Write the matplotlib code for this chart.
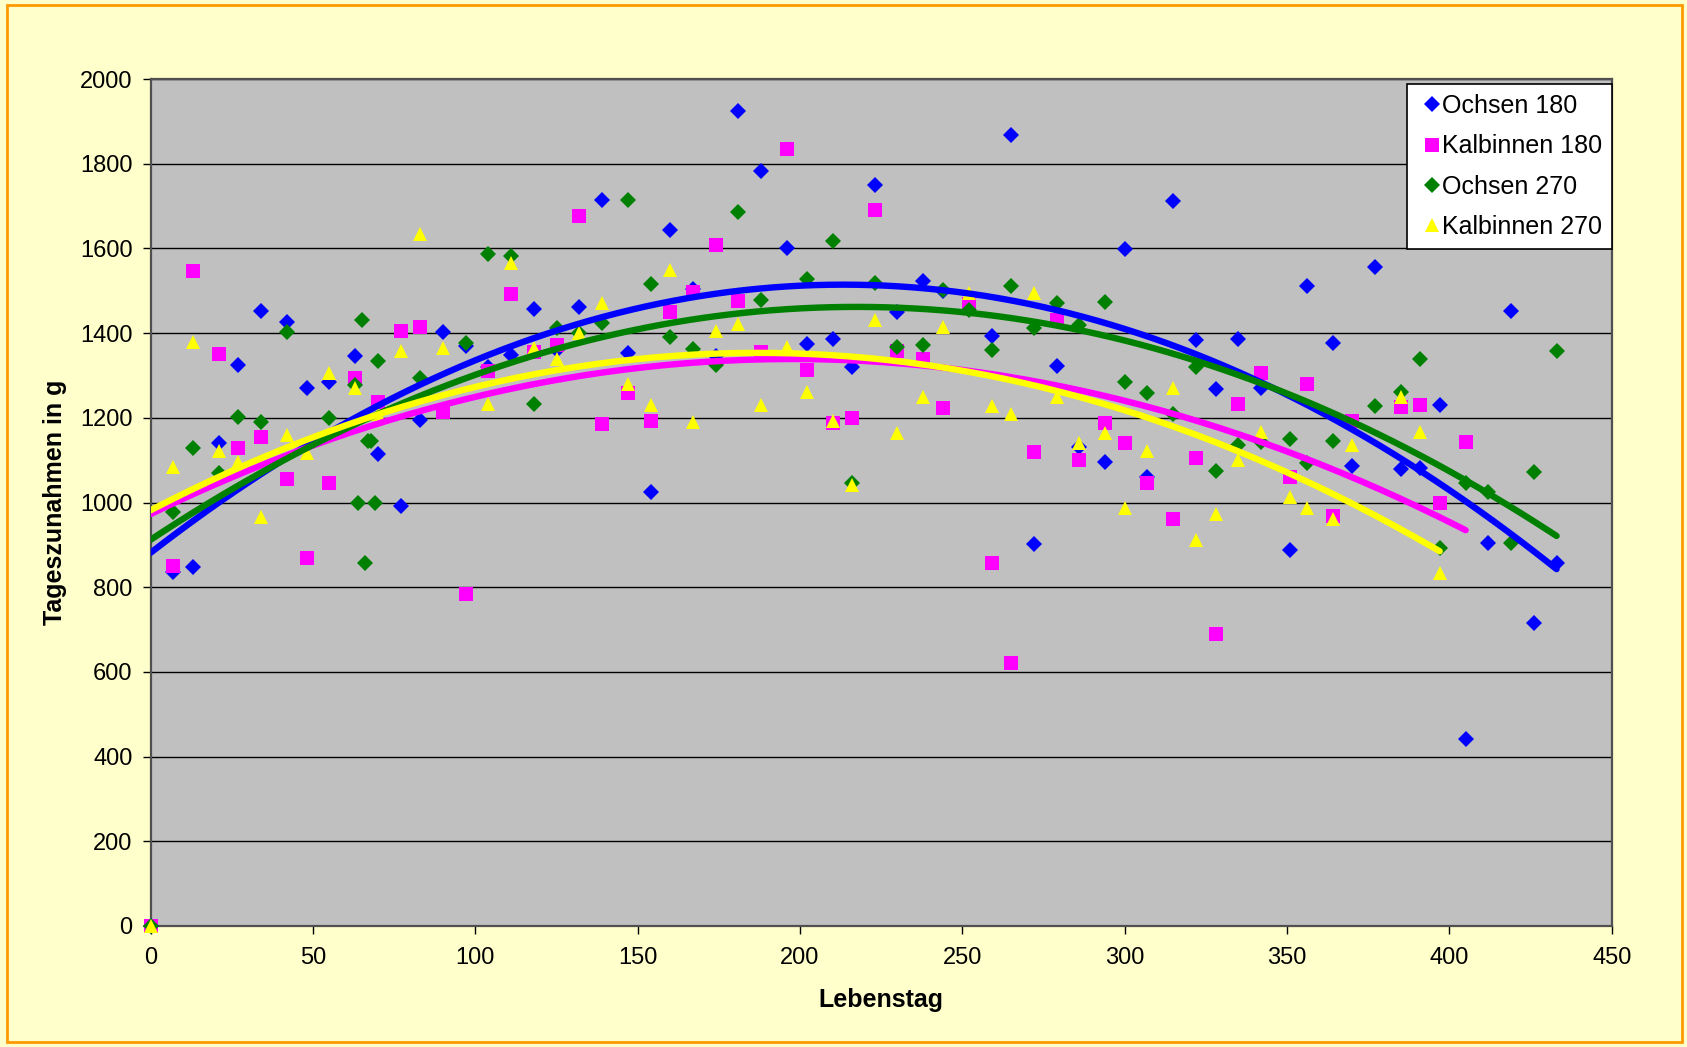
import matplotlib.pyplot as plt
import numpy as np
from matplotlib.patches import Rectangle

# Ochsen 180 (blaue Rauten)
tage_o180 = [0, 7, 13, 21, 27, 34, 42, 48, 55, 63, 70, 77, 83, 90, 97, 104, 111, 118, 125,
             132, 139, 147, 154, 160, 167, 174, 181, 188, 196, 202, 210, 216, 223, 230, 238,
             244, 259, 265, 272, 279, 286, 294, 300, 307, 315, 322, 328, 335, 342, 351, 356,
             364, 370, 377, 385, 391, 397, 405, 412, 419, 426, 433]
zun_o180 = [0, 836, 848, 1141, 1325, 1453, 1426, 1270, 1285, 1346, 1115, 991, 1196, 1402, 1370,
            1320, 1348, 1458, 1360, 1462, 1714, 1354, 1025, 1644, 1505, 1345, 1925, 1783, 1600,
            1374, 1387, 1319, 1750, 1449, 1524, 1500, 1393, 1868, 903, 1322, 1130, 1095, 1598,
            1061, 1712, 1384, 1269, 1386, 1270, 888, 1511, 1376, 1086, 1557, 1078, 1081, 1231,
            441, 905, 1453, 715, 858]

# Kalbinnen 180 (magenta Quadrate)
tage_k180 = [0, 7, 13, 21, 27, 34, 42, 48, 55, 63, 70, 77, 83, 90, 97, 104, 111, 118, 125,
             132, 139, 147, 154, 160, 167, 174, 181, 188, 196, 202, 210, 216, 223, 230, 238,
             244, 252, 259, 265, 272, 279, 286, 294, 300, 307, 315, 322, 328, 335, 342, 351,
             356, 364, 370, 385, 391, 397, 405]
zun_k180 = [0, 851, 1547, 1350, 1128, 1154, 1055, 870, 1045, 1293, 1238, 1405, 1415, 1214, 783,
            1310, 1492, 1356, 1372, 1676, 1185, 1258, 1193, 1449, 1496, 1608, 1476, 1355, 1835,
            1313, 1187, 1199, 1690, 1357, 1338, 1222, 1468, 856, 622, 1119, 1431, 1100, 1188,
            1140, 1045, 962, 1106, 689, 1232, 1305, 1061, 1280, 968, 1192, 1226, 1230, 1000,
            1143]

# Ochsen 270 (gruene Rauten)
tage_o270 = [0, 7, 13, 21, 27, 34, 42, 55, 63, 64, 65, 66, 67, 68, 69, 70, 83, 97, 104, 111,
             118, 125, 132, 139, 147, 154, 160, 167, 174, 181, 188, 202, 210, 216, 223, 230,
             238, 244, 252, 259, 265, 272, 279, 286, 294, 300, 307, 315, 322, 328, 335, 342,
             351, 356, 364, 377, 385, 391, 397, 405, 412, 419, 426, 433]
zun_o270 = [0, 978, 1129, 1069, 1202, 1189, 1403, 1200, 1277, 1000, 1430, 858, 1145, 1145, 1000,
            1335, 1293, 1376, 1587, 1582, 1233, 1413, 1400, 1425, 1714, 1517, 1391, 1362, 1325,
            1685, 1478, 1528, 1617, 1045, 1519, 1368, 1372, 1503, 1454, 1360, 1511, 1411, 1472,
            1419, 1473, 1285, 1259, 1210, 1319, 1075, 1136, 1143, 1151, 1094, 1146, 1229, 1260,
            1340, 892, 1047, 1024, 905, 1073, 1358]

# Kalbinnen 270 (gelbe Dreiecke)
tage_k270 = [0, 7, 13, 21, 27, 34, 42, 48, 55, 63, 70, 77, 83, 90, 104, 111, 118, 125, 132,
             139, 147, 154, 160, 167, 174, 181, 188, 196, 202, 210, 216, 223, 230, 238, 244,
             252, 259, 265, 272, 279, 286, 294, 300, 307, 315, 322, 328, 335, 342, 351, 356,
             364, 370, 385, 391, 397]
zun_k270 = [0, 1083, 1380, 1122, 1096, 965, 1160, 1118, 1305, 1270, 1210, 1358, 1633, 1366,
            1232, 1566, 1365, 1338, 1400, 1472, 1280, 1230, 1549, 1189, 1406, 1421, 1230, 1368,
            1260, 1192, 1041, 1431, 1163, 1250, 1415, 1495, 1228, 1209, 1494, 1250, 1140, 1163,
            986, 1122, 1270, 911, 972, 1100, 1167, 1012, 986, 962, 1136, 1250, 1167, 833]

namen = ['Ochsen 180', 'Kalbinnen 180', 'Ochsen 270', 'Kalbinnen 270']

plt.rcParams['font.family'] = ['Liberation Sans', 'DejaVu Sans']

fig = plt.figure(figsize=(16.87, 10.47), dpi=100)
fig.patch.set_facecolor('#FFFFCC')
fig.patches.append(Rectangle((0.004, 0.005), 0.993, 0.99, transform=fig.transFigure,
                             fill=False, edgecolor='#FF9900', linewidth=2))

ax = fig.add_axes([0.0893, 0.1156, 0.8661, 0.8089])
ax.set_facecolor('#C0C0C0')

serien = [
    (tage_o180, zun_o180, 'D', 8.2, '#0000FF'),
    (tage_k180, zun_k180, 's', 9.5, '#FF00FF'),
    (tage_o270, zun_o270, 'D', 8.2, '#008000'),
    (tage_k270, zun_k270, '^', 10.5, '#FFFF00'),
]

for (x, y, m, ms, c), name in zip(serien, namen):
    ax.plot(x, y, linestyle='none', marker=m, markersize=ms, color=c,
            markeredgewidth=0, label=name, clip_on=False, zorder=3)

# polynomische Trendlinien (2. Ordnung)
for x, y, m, ms, c in serien:
    koef = np.polyfit(x, y, 2)
    xx = np.linspace(0, max(x), 200)
    ax.plot(xx, np.polyval(koef, xx), color=c, linewidth=4.6,
            solid_capstyle='round', zorder=4)

ax.set_xlim(0, 450)
ax.set_ylim(0, 2000)
ax.set_xticks(range(0, 451, 50))
ax.set_yticks(range(0, 2001, 200))
ax.grid(axis='y', color='black', linewidth=1)
ax.set_axisbelow(True)
ax.tick_params(direction='out', length=6, width=1, labelsize=17)
ax.tick_params(axis='x', pad=9)
ax.tick_params(axis='y', pad=7)
for s in ax.spines.values():
    s.set_color('#505050')
    s.set_linewidth(1.6)

ax.set_xlabel('Lebenstag', fontsize=18, fontweight='bold')
ax.set_ylabel('Tageszunahmen in g', fontsize=18, fontweight='bold')
ax.xaxis.set_label_coords(0.5, -0.073)
ax.yaxis.set_label_coords(-0.057, 0.5)

leg = ax.legend(loc='upper right', bbox_to_anchor=(1.0, 0.994), fontsize=18,
                fancybox=False, framealpha=1, edgecolor='black', borderpad=0.4,
                labelspacing=0.65, handletextpad=-0.2, handlelength=1.2, borderaxespad=0)
leg.get_frame().set_linewidth(1.2)

fig.savefig('out.png', dpi=100, facecolor=fig.get_facecolor())
